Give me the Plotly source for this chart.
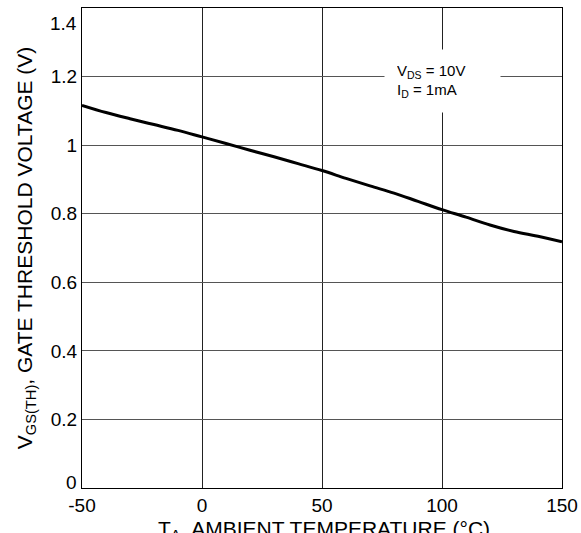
import plotly.graph_objects as go

temps = [-50, -40, -30, -20, -10, 0, 10, 20, 30, 40, 50, 60, 70, 80, 90, 100, 110, 120, 130, 140, 150]
vth = [1.116, 1.095, 1.077, 1.060, 1.043, 1.024, 1.005, 0.985, 0.966, 0.946, 0.926,
       0.903, 0.881, 0.860, 0.836, 0.812, 0.790, 0.767, 0.748, 0.734, 0.718]

x_ticks = [-50, 0, 50, 100, 150]
x_labels = ["-50", "0", "50", "100", "150"]
y_ticks = [0.2, 0.4, 0.6, 0.8, 1.0, 1.2]
y_labels = ["0.2", "0.4", "0.6", "0.8", "1", "1.2"]
y_edge_ticks = [0, 1.4]
y_edge_labels = ["0", "1.4"]
x_title = "T<sub>A</sub>, AMBIENT TEMPERATURE (°C)"
y_title = "V<sub>GS(TH)</sub>, GATE THRESHOLD VOLTAGE (V)"

FONT = "Liberation Sans, Arial, sans-serif"

fig = go.Figure()
fig.add_trace(go.Scatter(x=temps, y=vth, mode="lines",
                         line=dict(color="black", width=3, shape="spline"),
                         showlegend=False, hoverinfo="skip"))

fig.update_layout(
    width=581, height=533,
    margin=dict(l=82, r=19, t=8, b=45),
    paper_bgcolor="white", plot_bgcolor="white",
    font=dict(family=FONT, color="black"),
    xaxis=dict(range=[-50, 150], tickvals=x_ticks, ticktext=x_labels,
               showgrid=True, gridcolor="#222", gridwidth=1,
               showline=True, linecolor="black", linewidth=1, mirror=True,
               ticks="", tickfont=dict(size=19), zeroline=False,
               automargin=False),
    yaxis=dict(range=[0, 1.4], tickvals=y_ticks, ticktext=y_labels,
               showgrid=True, gridcolor="#555", gridwidth=1,
               showline=True, linecolor="black", linewidth=1, mirror=True,
               ticks="", tickfont=dict(size=19), zeroline=False,
               title=dict(text=y_title, font=dict(size=21), standoff=12),
               automargin=False),
)

# x-axis title, running off the bottom edge as in the reference
fig.add_annotation(x=0.504, y=0, xref="paper", yref="paper", text=x_title,
                   showarrow=False, xanchor="center", yanchor="top", yshift=-27,
                   font=dict(size=21, family=FONT, color="black"))

# edge tick labels sit slightly inside the frame in the reference
for val, lab in zip(y_edge_ticks, y_edge_labels):
    top = val > 0.7
    fig.add_annotation(x=0, y=val, xref="paper", yref="y",
                       text=lab, showarrow=False, xanchor="right",
                       yanchor="top" if top else "bottom",
                       xshift=-3, yshift=-3 if top else -7,
                       font=dict(size=19, family=FONT, color="black"))

fig.add_annotation(x=100, y=1.186, xref="x", yref="y",
                   text="V<sub>DS</sub> = 10V<br>I<sub>D</sub> = 1mA",
                   showarrow=False, align="left", width=91, height=38,
                   bgcolor="white", borderpad=12,
                   font=dict(size=15, family=FONT, color="black"))

fig.write_html("out.html", config={"displayModeBar": False},
               post_script="document.body.style.margin='0';")
